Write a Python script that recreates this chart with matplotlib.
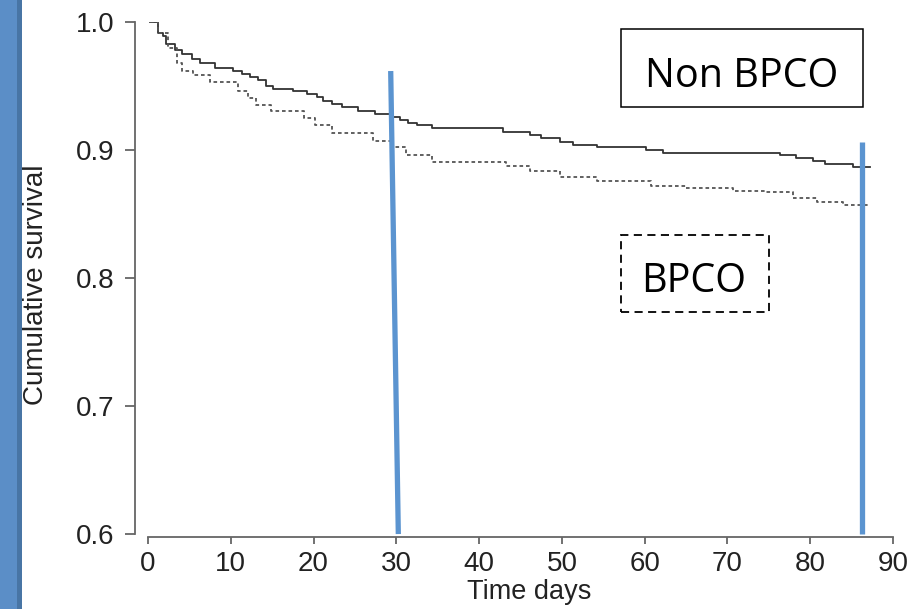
import matplotlib
matplotlib.use("Agg")
import matplotlib.pyplot as plt
from matplotlib.patches import Rectangle

# ---- data ----
times_non = [0.24, 1.2, 1.8, 2.2, 3.26, 4.07, 5.27, 6.28, 8.1, 10.3, 11.3, 12.3, 13.3, 14.3,
             15.1, 17.5, 19.2, 20.4, 21.2, 22.2, 23.4, 25.4, 27.4, 29.6, 30.4, 31.4, 32.5,
             34.3, 42.9, 46.1, 47.5, 49.8, 51.4, 54.2, 60.2, 62.2, 76.3, 78.3, 80.3, 81.8,
             85.2, 87.2]
surv_non = [1.0, 0.9917, 0.989, 0.983, 0.978, 0.975, 0.971, 0.9678, 0.9638, 0.9617, 0.9594,
            0.957, 0.9547, 0.950, 0.9477, 0.9463, 0.9438, 0.9412, 0.9383, 0.936, 0.9333,
            0.9305, 0.928, 0.926, 0.9234, 0.9213, 0.9193, 0.917, 0.9138, 0.9117, 0.9091,
            0.9065, 0.904, 0.9026, 0.900, 0.898, 0.896, 0.8935, 0.8914, 0.8888, 0.887, 0.887]

times_bpco = [0.24, 1.2, 2.46, 3.46, 4.07, 5.47, 7.49, 10.9, 12.1, 13.1, 14.9, 18.8, 20.2,
              22.2, 27.2, 29.6, 31.2, 34.3, 43.3, 46.1, 49.8, 54.2, 60.8, 65.0, 70.7, 74.7,
              77.9, 80.8, 84.0, 87.2]
surv_bpco = [1.0, 0.9912, 0.9794, 0.968, 0.9617, 0.9586, 0.9534, 0.9463, 0.9404, 0.9352,
             0.9307, 0.9248, 0.9195, 0.9135, 0.9073, 0.9026, 0.896, 0.8909, 0.8877, 0.8838,
             0.8787, 0.8758, 0.8719, 0.870, 0.8682, 0.8669, 0.8623, 0.8596, 0.857, 0.857]

x_ticks = [0, 10, 20, 30, 40, 50, 60, 70, 80, 90]
y_ticks = [0.6, 0.7, 0.8, 0.9, 1.0]
y_tick_labels = ["0.6", "0.7", "0.8", "0.9", "1.0"]

# blue marker lines (time, survival) start/end
marker1_x = [29.32, 30.24]
marker1_y = [0.9617, 0.600]
marker2_x = [86.29, 86.29]
marker2_y = [0.9064, 0.600]

label_non = "Non BPCO"
label_bpco = "BPCO"

plt.rcParams['font.family'] = ['Liberation Sans', 'DejaVu Sans']

W, H = 916, 609
fig = plt.figure(figsize=(W / 100, H / 100), dpi=100)

# left decorative strip
fig.patches.append(Rectangle((0, 0), 17 / W, 1, transform=fig.transFigure,
                             facecolor='#5b8ec7', edgecolor='none', zorder=0))
fig.patches.append(Rectangle((17 / W, 0), 5 / W, 1, transform=fig.transFigure,
                             facecolor='#4875a5', edgecolor='none', zorder=0))

ax = fig.add_axes([135 / W, (H - 537) / H, (893 - 135) / W, (537 - 22) / H])
ax.patch.set_alpha(0)

ax.step(times_non, surv_non, where='post', color='#333333', lw=1.3, zorder=3)
ax.step(times_bpco, surv_bpco, where='post', color='#555555', lw=1.3,
        linestyle=(0, (2.0, 1.6)), zorder=3)

ax.plot(marker1_x, marker1_y, color='#5b94d0', lw=3.8, solid_capstyle='butt', zorder=4)
ax.plot(marker2_x, marker2_y, color='#5b94d0', lw=3.8, solid_capstyle='butt', zorder=4)

ax.set_xlim(-1.57, 90)
ax.set_ylim(0.5977, 1.0)

for s in ['top', 'right']:
    ax.spines[s].set_visible(False)
for s in ['left', 'bottom']:
    ax.spines[s].set_color('#666666')
    ax.spines[s].set_linewidth(1.3)
ax.spines['left'].set_bounds(0.6, 1.0)
ax.spines['bottom'].set_bounds(0, 90)

ax.set_xticks(x_ticks)
ax.set_xticklabels([str(v) for v in x_ticks])
ax.set_yticks(y_ticks)
ax.set_yticklabels(y_tick_labels)
ax.tick_params(axis='y', length=7, width=1.3, color='#666666', pad=8,
               labelsize=20, labelcolor='#222222')
ax.tick_params(axis='x', length=5, width=1.3, color='#666666', pad=5,
               labelsize=20, labelcolor='#222222')

ax.set_xlabel("Time days", fontsize=19.5, color='#222222', va='top')
ax.xaxis.set_label_coords(0.52, -0.0816)
ax.set_ylabel("Cumulative survival", fontsize=20, color='#222222')
ax.yaxis.set_label_coords(-0.114, 0.489)

# annotation boxes
fig.patches.append(Rectangle((620.7 / W, (H - 106.7) / H), (862.7 - 620.7) / W, (106.7 - 29) / H,
                             transform=fig.transFigure, facecolor='white',
                             edgecolor='black', lw=1.1, zorder=5))
fig.text(741.7 / W, (H - 86.7) / H, label_non, ha='center', va='baseline',
         fontsize=28.5, family=['Open Sans', 'DejaVu Sans'], color='black', zorder=6)

fig.patches.append(Rectangle((620.7 / W, (H - 311.7) / H), (769 - 620.7) / W, (311.7 - 235) / H,
                             transform=fig.transFigure, facecolor='white',
                             edgecolor='black', lw=1.3, linestyle=(0, (4.5, 3.0)), zorder=5))
fig.text(693.3 / W, (H - 291.7) / H, label_bpco, ha='center', va='baseline',
         fontsize=28.5, family=['Open Sans', 'DejaVu Sans'], color='black', zorder=6)

fig.savefig("out.png", dpi=100)
